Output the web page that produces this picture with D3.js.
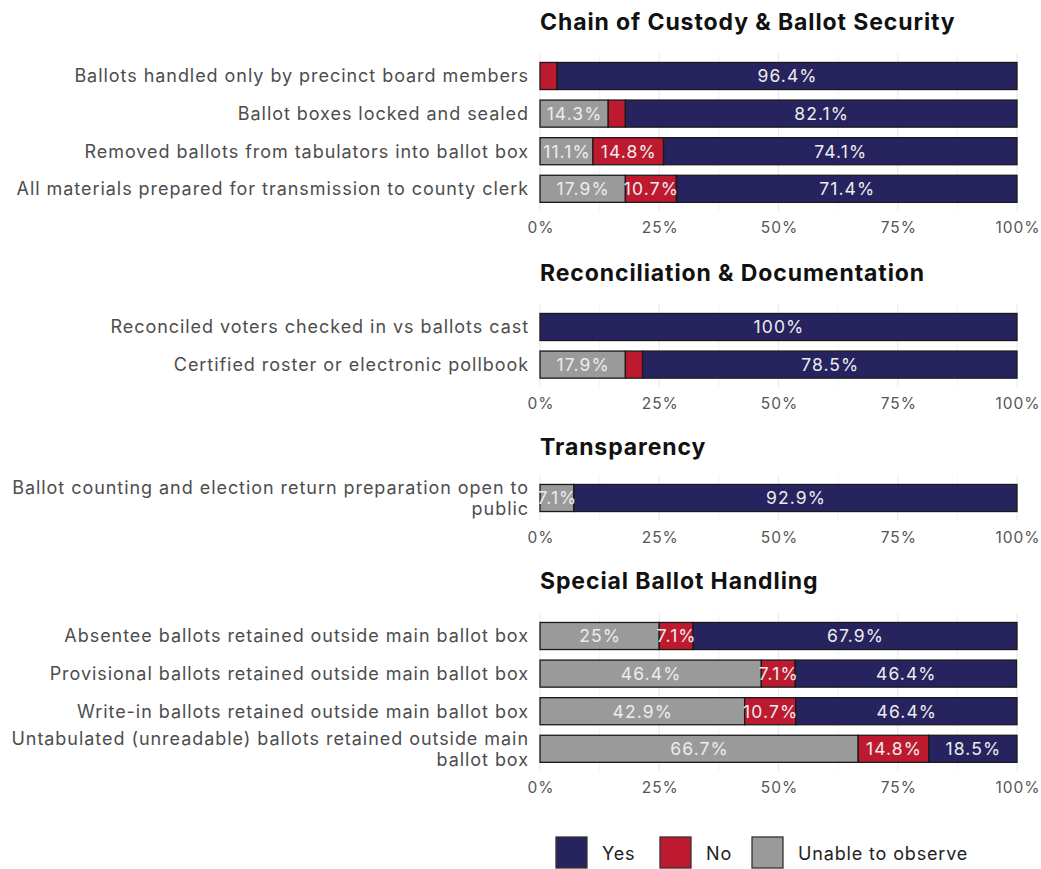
<!DOCTYPE html>
<html><head><meta charset="utf-8">
<script src="https://cdn.jsdelivr.net/npm/d3@7"></script>
<style>body{margin:0;background:#fff}svg{display:block}</style>
</head><body><svg id="c" width="1041" height="869"></svg>
<script>
// ---- data ----
const sections = ["Chain of Custody & Ballot Security","Reconciliation & Documentation","Transparency","Special Ballot Handling"];
const chainItems = ["Ballots handled only by precinct board members","Ballot boxes locked and sealed","Removed ballots from tabulators into ballot box","All materials prepared for transmission to county clerk"];
const chainUnable = [0, 14.3, 11.1, 17.9];
const chainNo = [3.6, 3.6, 14.8, 10.7];
const chainYes = [96.4, 82.1, 74.1, 71.4];
const reconItems = ["Reconciled voters checked in vs ballots cast","Certified roster or electronic pollbook"];
const reconUnable = [0, 17.9];
const reconNo = [0, 3.6];
const reconYes = [100, 78.5];
const transItems = ["Ballot counting and election return preparation open to public"];
const transUnable = [7.1];
const transNo = [0];
const transYes = [92.9];
const specialItems = ["Absentee ballots retained outside main ballot box","Provisional ballots retained outside main ballot box","Write-in ballots retained outside main ballot box","Untabulated (unreadable) ballots retained outside main ballot box"];
const specialUnable = [25, 46.4, 42.9, 66.7];
const specialNo = [7.1, 7.1, 10.7, 14.8];
const specialYes = [67.9, 46.4, 46.4, 18.5];
const responses = ["Unable to observe","No","Yes"];
const legendOrder = ["Yes","No","Unable to observe"];
const xTicks = [0, 25, 50, 75, 100];

const colors = {"Yes":"#27235e","No":"#be1a2f","Unable to observe":"#9a9a9a"};
const font = "Inter, 'Open Sans', sans-serif";

const panels = [
  {title: sections[0], items: chainItems, vals: [chainUnable, chainNo, chainYes], titleY: 30, first: 76},
  {title: sections[1], items: reconItems, vals: [reconUnable, reconNo, reconYes], titleY: 281, first: 327},
  {title: sections[2], items: transItems, vals: [transUnable, transNo, transYes], titleY: 455, first: 498},
  {title: sections[3], items: specialItems, vals: [specialUnable, specialNo, specialYes], titleY: 589, first: 636}
];

const svg = d3.select("#c");
const x = d3.scaleLinear().domain([0, 100]).range([540, 1017]);
const step = 37.6;

function wrap(str, maxChars) {
  const words = str.split(" "); const lines = []; let cur = "";
  words.forEach(w => {
    const t = cur ? cur + " " + w : w;
    if (t.length > maxChars && cur) { lines.push(cur); cur = w; } else cur = t;
  });
  if (cur) lines.push(cur);
  return lines;
}

panels.forEach(p => {
  const n = p.items.length;
  const top = p.first - step * 0.6;
  const bottom = top + step * (n - 1 + 1.2);
  const y = d3.scalePoint().domain(p.items).range([top, bottom]).padding(0.6);
  const bh = y.step() * 0.72;
  const g = svg.append("g");

  // title
  g.append("text").attr("x", 540).attr("y", p.titleY).text(p.title)
    .attr("font-family", font).attr("font-weight", 700).attr("font-size", 23)
    .attr("letter-spacing", 0.9).attr("fill", "#111");

  // grid (minor + major)
  const minor = d3.range(12.5, 100, 25);
  g.selectAll(".mn").data(minor).join("line")
    .attr("x1", d => x(d)).attr("x2", d => x(d)).attr("y1", top).attr("y2", bottom)
    .attr("stroke", "#f4f4f4").attr("stroke-width", 1);
  g.selectAll(".mj").data(xTicks).join("line")
    .attr("x1", d => x(d)).attr("x2", d => x(d)).attr("y1", top).attr("y2", bottom)
    .attr("stroke", "#ebebeb").attr("stroke-width", 1.2);

  // stacked data
  const rows = p.items.map((it, i) => {
    let acc = 0;
    return responses.map((r, k) => {
      const v = p.vals[k][i]; const s = {item: it, resp: r, v, x0: acc, x1: acc + v}; acc += v; return s;
    });
  }).flat().filter(d => d.v > 0);

  g.selectAll(".bar").data(rows).join("rect")
    .attr("x", d => x(d.x0)).attr("width", d => x(d.x1) - x(d.x0))
    .attr("y", d => y(d.item) - bh / 2).attr("height", bh)
    .attr("fill", d => colors[d.resp]).attr("stroke", "#1a1a1a").attr("stroke-width", 1.3);

  g.selectAll(".lbl").data(rows.filter(d => d.v >= 5)).join("text")
    .attr("x", d => x((d.x0 + d.x1) / 2) + 0.5).attr("y", d => y(d.item))
    .attr("dy", "0.36em").attr("text-anchor", "middle")
    .attr("font-family", font).attr("font-size", 17.5).attr("letter-spacing", 1.1).attr("fill", "#ececec")
    .text(d => d3.format("~")(d.v) + "%");

  // y labels
  p.items.forEach(it => {
    const lines = wrap(it, 56);
    const t = g.append("text").attr("text-anchor", "end")
      .attr("font-family", font).attr("font-size", 18).attr("letter-spacing", 0.95).attr("fill", "#4d4d4d");
    const y0 = y(it) - (lines.length - 1) * 10.5;
    lines.forEach((l, i) => t.append("tspan").attr("x", 529).attr("y", y0 + i * 21).attr("dy", "0.36em").text(l));
  });

  // x axis
  const ax = d3.axisBottom(x).tickValues(xTicks).tickFormat(d => d + "%").tickSize(0).tickPadding(0);
  const axg = g.append("g").attr("transform", `translate(0.5,${bottom + 11})`).call(ax);
  axg.select(".domain").remove();
  axg.selectAll("text").attr("font-family", font).attr("font-size", 15.5).attr("letter-spacing", 1)
    .attr("fill", "#555").attr("dy", "0.71em");
});

// legend
const lx = [556, 660, 752];
const lg = svg.append("g");
legendOrder.forEach((r, i) => {
  lg.append("rect").attr("x", lx[i]).attr("y", 837).attr("width", 31).attr("height", 31)
    .attr("fill", colors[r]).attr("stroke", "#333").attr("stroke-width", 1.3);
  lg.append("text").attr("x", lx[i] + 46).attr("y", 854).attr("dy", "0.36em").text(r)
    .attr("font-family", font).attr("font-size", 18).attr("letter-spacing", 0.85).attr("fill", "#222");
});
</script></body></html>
